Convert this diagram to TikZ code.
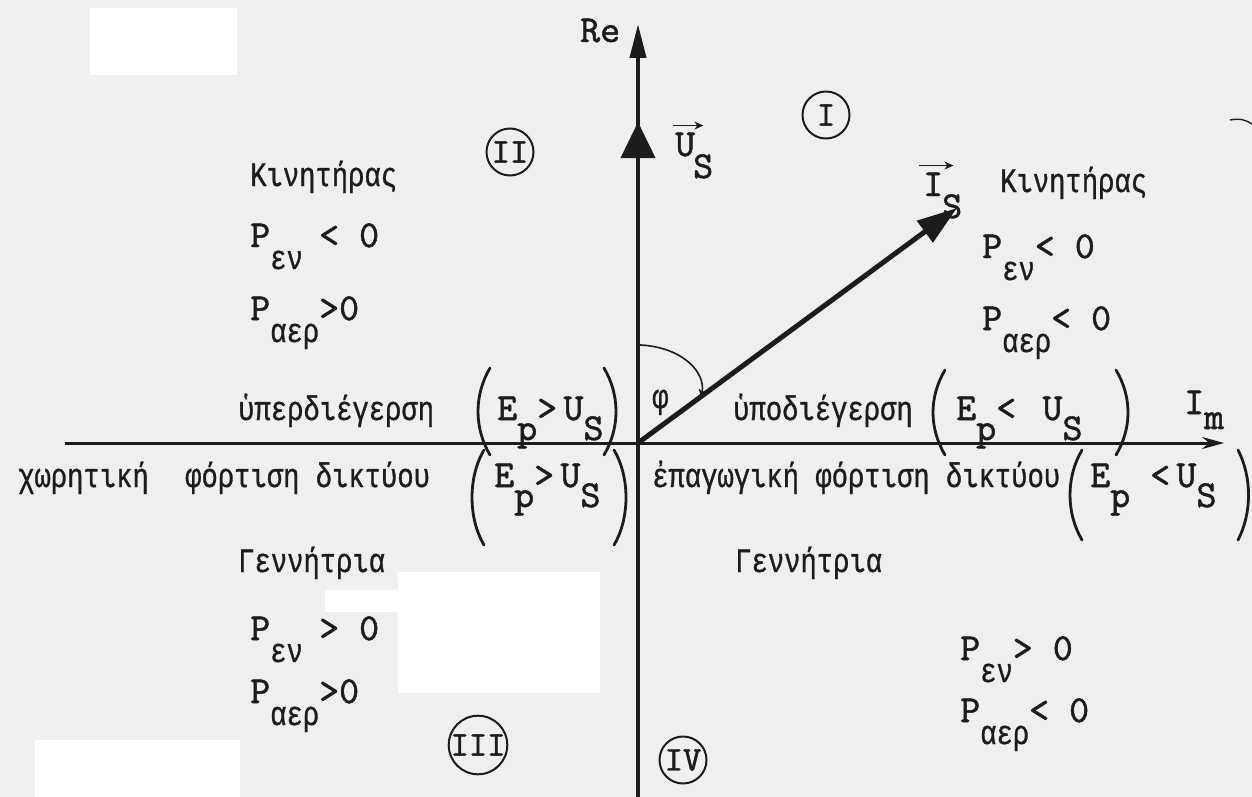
\documentclass[tikz,border=0pt]{standalone}
\usepackage{fontspec}
\usetikzlibrary{arrows.meta}
\newfontfamily\twfont[FakeStretch=0.8,FakeBold=0.9]{Liberation Mono}
\newfontfamily\lmt[Scale=1.12,FakeBold=1.3]{lmmono10-regular.otf}
\newcommand\la[1]{{\lmt #1}}
\newcommand\lo[1]{\raisebox{-22pt}{#1}}
\newcommand\los[1]{\raisebox{-20pt}{#1}}
\definecolor{ink}{HTML}{1C1C1C}
\definecolor{paper}{HTML}{EFEFEF}
\begin{document}
\begin{tikzpicture}[x=1pt,y=-1pt,
  txt/.style={font=\twfont\fontsize{34}{38}\selectfont, text=ink, inner sep=0pt, anchor=base west},
  ring/.style={draw=ink, line width=2pt, circle, minimum size=47pt, inner sep=0pt,
               font=\lmt\fontsize{31}{36}\selectfont, text=ink},
  paren/.style={draw=ink, line width=2.8pt, line cap=round},
  vec/.style={draw=ink, line width=1.8pt, -{Stealth[length=9pt,width=8pt]}},
  axis/.style={draw=ink, line width=4pt},
]
\useasboundingbox (0,0) rectangle (1252,797);
\fill[paper] (0,0) rectangle (1252,797);
% white patches of the scan
\fill[white] (90,8) rectangle (237,75);
\fill[white] (398,572) rectangle (600,693);
\fill[white] (325,590) rectangle (398,612);
\fill[white] (35,740) rectangle (240,797);

% coordinates
\coordinate (O) at (638,443);
\coordinate (ReTip) at (638,24);
\coordinate (Bot) at (638,797);
\coordinate (ImL) at (65,443);
\coordinate (ImTip) at (1224,443);
\coordinate (UsTip) at (638,122);
\coordinate (IsTip) at (957,208);
\coordinate (PhiA) at (640,345);
\coordinate (PhiB) at (701,398);

% axes and vectors
\draw[axis, -{Triangle[length=34pt,width=16pt]}] (Bot) -- (ReTip);
\draw[axis, -{Stealth[length=22pt,width=12pt]}, line width=3pt] (ImL) -- (ImTip);
\draw[axis, -{Triangle[length=36pt,width=34pt]}] (O) -- (UsTip);
\draw[axis, line width=5pt, -{Triangle[length=40pt,width=26pt]}] (O) -- (IsTip);
\draw[vec, line width=1.6pt] (PhiA) .. controls (682,347) and (706,372) .. (PhiB);

% axis labels
\node[txt] (re) at (580,42) {\la{Re}};
\node[txt] (im) at (1184,414) {\la{I\raisebox{-15pt}{m}}};
\node[txt] (phi) at (652,408) {φ};

% vector labels
\node[txt] (uu) at (675,156) {\la{U}};
\node[txt] (us) at (693,178) {\la{S}};
\draw[vec] ([yshift=7pt,xshift=-2pt]uu.north west) -- ([yshift=7pt,xshift=8pt]uu.north east);
\node[txt] (ii) at (923,196) {\la{I}};
\node[txt] (is) at (942,218) {\la{S}};
\draw[vec] ([yshift=7pt,xshift=-4pt]ii.north west) -- ([yshift=7pt,xshift=10pt]ii.north east);

% quadrant numbers
\node[ring] (q1) at (826,115) {I};
\node[ring] (q2) at (510,152) {II};
\node[ring] (q3) at (478,745) {III};
\node[ring] (q4) at (683,760) {IV};

% quadrant II
\node[txt] (k2) at (250,186) {Κινητήρας};
\node[txt] (p2a) at (250,247) {\la{P}\lo{εν} \la{< 0}};
\node[txt] (p2b) at (250,320) {\la{P}\lo{αερ}\la{>0}};
% quadrant I
\node[txt] (k1) at (1000,192) {Κινητήρας};
\node[txt] (p1a) at (982,258) {\la{P}\lo{εν}\la{< 0}};
\node[txt] (p1b) at (982,330) {\la{P}\lo{αερ}\la{< 0}};
% quadrant III
\node[txt] (g3) at (238,572) {Γεννήτρια};
\node[txt] (p3a) at (250,640) {\la{P}\lo{εν} \la{> 0}};
\node[txt] (p3b) at (250,703) {\la{P}\lo{αερ}\la{>0}};
% quadrant IV
\node[txt] (g4) at (735,572) {Γεννήτρια};
\node[txt] (p4a) at (960,660) {\la{P}\lo{εν}\la{> 0}};
\node[txt] (p4b) at (960,722) {\la{P}\lo{αερ}\la{< 0}};

% excitation lines
\node[txt] (ov) at (238,420) {ὑπερδιέγερση};
\node[txt] (ovc) at (497,420) {\la{E\los{p}>\,U\los{S}}};
\draw[paren] (490,368) .. controls (474,395) and (474,428) .. (490,455);
\draw[paren] (604,368) .. controls (620,395) and (620,428) .. (604,455);

\node[txt] (un) at (733,420) {ὑποδιέγερση};
\node[txt] (unc) at (956,420) {\la{E\los{p}< \,U\los{S}}};
\draw[paren] (945,370) .. controls (929,397) and (929,428) .. (945,455);
\draw[paren] (1116,370) .. controls (1132,397) and (1132,428) .. (1116,455);

\node[txt] (cap) at (18,487) {χωρητική};
\node[txt] (capb) at (185,487) {φόρτιση δικτύου};
\node[txt] (capc) at (494,487) {\la{E\los{p}>\,U\los{S}}};
\draw[paren] (484,450) .. controls (468,477) and (468,518) .. (484,545);
\draw[paren] (614,450) .. controls (630,477) and (630,518) .. (614,545);

\node[txt] (ind) at (652,487) {ἐπαγωγική φόρτιση δικτύου};
\node[txt] (indc) at (1090,487) {\la{E\los{p} <\,U\los{S}}};
\draw[paren] (1082,450) .. controls (1066,477) and (1066,513) .. (1082,540);
\draw[paren] (1238,450) .. controls (1252,477) and (1252,513) .. (1238,540);

% stray stroke at top right
\draw[ink, line width=1.4pt] (1230,120) .. controls (1240,118) and (1246,120) .. (1252,124);
\end{tikzpicture}
\end{document}
